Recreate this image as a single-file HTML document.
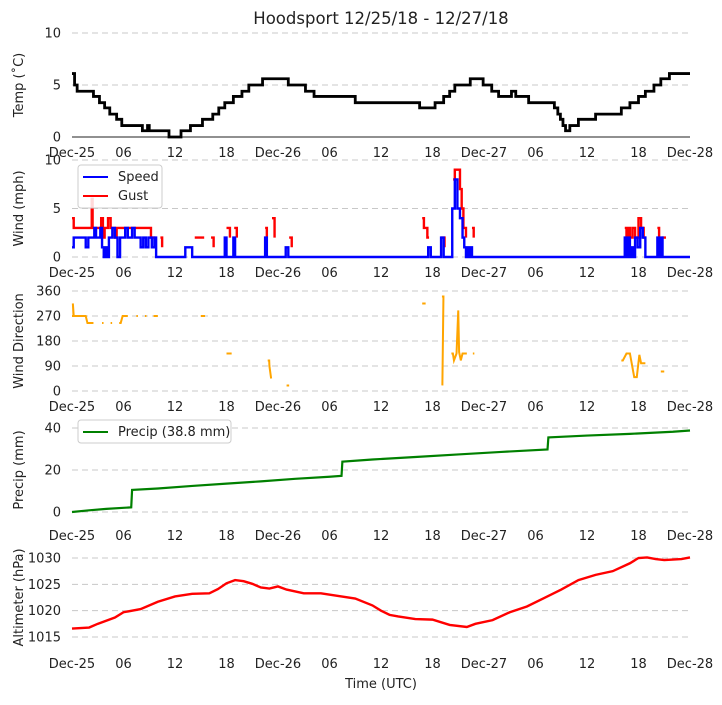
<!DOCTYPE html>
<html><head><meta charset="utf-8"><style>
body{margin:0;background:#fff;}
svg text{font-family:"DejaVu Sans","Liberation Sans",sans-serif;fill:#222;}
</style></head><body>
<svg id="c" width="722" height="700" xmlns="http://www.w3.org/2000/svg">
<text x="381" y="24" font-size="16.5" text-anchor="middle">Hoodsport 12/25/18 - 12/27/18</text>
<text x="381" y="688" font-size="13" text-anchor="middle">Time (UTC)</text>
</svg>
<script>
const xTickHours=[0,6,12,18,24,30,36,42,48,54,60,66,72];
const xTickLabels=["Dec-25","06","12","18","Dec-26","06","12","18","Dec-27","06","12","18","Dec-28"];
const tempT=[0,0.3,0.6,2.5,3.2,3.8,4.4,5.2,5.8,8.2,8.8,9.0,11.3,12.7,13.8,15.2,16.4,17.1,17.8,18.8,19.8,20.6,22.2,25.2,27.2,28.2,33.0,40.5,42.3,43.3,44.0,44.6,46.4,47.9,48.9,49.7,51.2,51.7,53.2,56.2,56.6,56.9,57.2,57.5,58.0,59.0,61.0,64.0,65.0,66.0,66.8,67.8,68.6,69.6,72];
const tempV=[6.1,5.0,4.4,3.9,3.3,2.8,2.2,1.7,1.1,0.6,1.1,0.6,0.0,0.6,1.1,1.7,2.2,2.8,3.3,3.9,4.4,5.0,5.6,5.0,4.4,3.9,3.3,2.8,3.3,3.9,4.4,5.0,5.6,5.0,4.4,3.9,4.4,3.9,3.3,2.8,2.2,1.7,1.1,0.6,1.1,1.7,2.2,2.8,3.3,3.9,4.4,5.0,5.6,6.1,6.1];
const speedT=[0,0.2,1.5,1.6,1.9,2.6,2.8,3.3,3.5,3.7,3.9,4.1,4.3,4.7,5.0,5.3,5.6,6.2,6.5,7.0,7.3,8.0,8.3,8.6,8.9,9.3,9.6,9.8,13.2,13.6,14.0,17.6,17.8,18.0,18.8,19.0,22.3,22.5,22.7,24.9,25.2,41.3,41.5,41.8,43.0,43.3,44.3,44.6,44.9,45.2,45.5,45.7,45.9,46.0,46.2,46.4,46.6,64.2,64.4,64.6,64.8,65.0,65.2,65.4,65.6,65.9,66.2,66.5,66.8,68.0,68.2,68.4,68.6,68.8,72];
const speedV=[1,2,2,1,2,3,2,3,1,0,1,0,2,3,2,0,2,3,2,3,2,1,2,1,2,1,2,0,1,1,0,0,2,0,2,0,0,2,0,1,0,0,1,0,2,0,5,8,5,4,2,1,0,1,0,1,0,0,2,0,2,0,1,0,2,1,3,2,0,0,2,0,2,0,0];
const gustT=[0,0.2,2.2,2.3,2.4,3.4,3.6,3.8,4.2,4.5,5.0,5.2,9.0,9.2,9.7,null,10.3,10.5,null,14.3,15.4,null,16.2,16.5,null,18.0,18.4,null,18.9,19.2,null,22.5,22.7,null,23.3,23.6,null,25.3,25.6,null,40.8,41.0,41.4,41.6,null,43.0,43.4,null,44.4,44.6,45.0,45.2,45.4,45.6,45.9,null,46.6,46.8,null,64.4,64.6,64.8,65.0,65.3,65.6,66.0,66.3,66.6,66.9,null,68.2,68.4,null,68.7,69.2];
const gustV=[4,3,3,6,3,4,2,3,4,3,2,3,3,2,2,null,2,1,null,2,2,null,2,1,null,3,2,null,3,2,null,3,2,null,4,2,null,2,1,null,4,3,2,2,null,2,1,null,8,9,9,7,5,3,2,null,3,2,null,3,2,3,2,3,2,4,3,2,2,null,3,2,null,2,2];
const dirT=[0,0.1,0.2,0.5,1.0,1.6,1.8,2.5,3.5,4.5,5.5,5.9,6.5,7.5,8.5,9.5,10.0,15.0,15.5,18.0,18.6,22.8,23.0,23.2,25.0,25.3,40.8,41.2,43.1,43.15,44.2,44.5,44.8,45.0,45.1,45.3,45.5,46.0,46.7,64.0,64.6,65.0,65.5,65.8,66.1,66.3,66.8,68.6,69.0];
const dirV=[270,315,270,270,270,270,245,245,245,245,245,270,270,270,270,270,270,270,270,135,135,110,90,45,20,20,315,315,340,20,135,110,135,290,140,110,135,135,135,110,135,135,50,50,130,100,100,70,70];
const precipT=[0,2,4,6,6.9,7.0,10,14,18,22,26,30,31.4,31.5,35,40,45,50,55.4,55.5,60,65,70,72];
const precipV=[0,0.8,1.5,2.0,2.2,10.5,11.2,12.4,13.5,14.6,15.8,16.8,17.2,24.0,25.0,26.2,27.4,28.6,29.8,35.5,36.4,37.2,38.2,38.8];
const altT=[0,2,3,5,6,8,10,12,14,16,17,18,19,20,21,22,23,24,25,27,29,31,33,35,36,37,38,40,42,44,46,47,49,51,53,55,57,59,61,63,65,66,67,68,69,71,72];
const altV=[1016.6,1016.8,1017.5,1018.7,1019.7,1020.3,1021.7,1022.7,1023.2,1023.3,1024.1,1025.2,1025.8,1025.6,1025.1,1024.4,1024.2,1024.6,1024.0,1023.3,1023.3,1022.8,1022.3,1021.0,1020.0,1019.2,1018.9,1018.4,1018.3,1017.3,1016.9,1017.5,1018.2,1019.7,1020.8,1022.4,1024.0,1025.8,1026.8,1027.5,1029.0,1030.0,1030.1,1029.8,1029.6,1029.8,1030.1];

const NS="http://www.w3.org/2000/svg";
const svg=document.getElementById('c');
const X0=72,X1=690;
function xs(h){return X0+(X1-X0)*h/72;}
function mk(tag,attrs,parent){const e=document.createElementNS(NS,tag);for(const k in attrs)e.setAttribute(k,attrs[k]);(parent||svg).appendChild(e);return e;}

function panel(name,yTop,yBot,vMin,vMax,ticks,title,labelY){
  const g=mk('g',{});
  
  
  const ys=v=>yBot-(v-vMin)/(vMax-vMin)*(yBot-yTop);
  ticks.forEach(t=>{
    const l=mk('line',{x1:X0,x2:X1,y1:ys(t),y2:ys(t),stroke:'#c8c8c8','stroke-dasharray':'6,4','stroke-width':1},g);
    
    
    const tx=mk('text',{x:61,y:ys(t)+4.5,'font-size':13,'text-anchor':'end'},g);
    tx.textContent=t;
    
    
  });
  xTickHours.forEach((h,i)=>{
    const tx=mk('text',{x:xs(h),y:labelY,'font-size':13,'text-anchor':'middle'},g);
    tx.textContent=xTickLabels[i];
    
    
  });
  const cy=(yTop+yBot)/2;
  const tt=mk('text',{x:0,y:0,'font-size':13,'text-anchor':'middle',transform:`translate(23,${cy}) rotate(-90)`},g);
  tt.textContent=title;
  
  
  return {g,ys};
}
function stepPath(T,V,ys){
  let d='',pen=false,prev=null;
  for(let i=0;i<T.length;i++){
    if(T[i]===null||V[i]===null){pen=false;prev=null;continue;}
    const x=xs(T[i]),y=ys(V[i]);
    if(!pen){d+=`M${x},${y}`;pen=true;}
    else{d+=`L${x},${prev}L${x},${y}`;}
    prev=y;
  }
  return d;
}
function linePath(T,V,ys){
  let d='';
  for(let i=0;i<T.length;i++){d+=(i?'L':'M')+xs(T[i])+','+ys(V[i]);}
  return d;
}

// Temp
let p=panel('temp',33,137,0,10,[0,5,10],'Temp (˚C)',157);
let zl=mk('line',{x1:X0,x2:X1,y1:137,y2:137,stroke:'#222','stroke-width':1},p.g);


let e=mk('path',{d:stepPath(tempT,tempV,p.ys),fill:'none',stroke:'#000','stroke-width':2.8},p.g);



// Wind
p=panel('wind',160,257,0,10,[0,5,10],'Wind (mph)',277);
e=mk('path',{d:stepPath(gustT,gustV,p.ys),fill:'none',stroke:'#f00','stroke-width':2.4},p.g);


e=mk('path',{d:stepPath(speedT,speedV,p.ys),fill:'none',stroke:'#00f','stroke-width':2.4},p.g);


let lg=mk('g',{},p.g);


mk('rect',{x:78,y:165,width:84,height:43,fill:'#fff','fill-opacity':0.85,stroke:'#ccc',rx:3},lg);
mk('line',{x1:83,x2:108,y1:177,y2:177,stroke:'#00f','stroke-width':2},lg);
mk('line',{x1:83,x2:108,y1:196,y2:196,stroke:'#f00','stroke-width':2},lg);
e=mk('text',{x:118,y:181,'font-size':13},lg);e.textContent='Speed';


e=mk('text',{x:118,y:200,'font-size':13},lg);e.textContent='Gust';



// Direction
p=panel('direction',291,391,0,360,[0,90,180,270,360],'Wind Direction',411);
let dd='';
for(let i=0;i<dirT.length;i++){
  const x=xs(dirT[i]),y=p.ys(dirV[i]);
  if(i>0&&dirT[i]-dirT[i-1]<=0.7){dd+=`L${x},${y}`;}else{dd+=`M${x},${y}L${x+1.5},${y}`;}
}
e=mk('path',{d:dd,fill:'none',stroke:'orange','stroke-width':2},p.g);



// Precip
p=panel('precip',428,512,0,40,[0,20,40],'Precip (mm)',540);
e=mk('path',{d:linePath(precipT,precipV,p.ys),fill:'none',stroke:'green','stroke-width':2.2},p.g);


lg=mk('g',{},p.g);


mk('rect',{x:78,y:420,width:153,height:23,fill:'#fff',stroke:'#ccc',rx:3},lg);
mk('line',{x1:83,x2:108,y1:432,y2:432,stroke:'green','stroke-width':2},lg);
e=mk('text',{x:118,y:436,'font-size':13},lg);e.textContent='Precip (38.8 mm)';



// Altimeter
p=panel('altimeter',558,637,1015,1030,[1015,1020,1025,1030],'Altimeter (hPa)',668);
e=mk('path',{d:linePath(altT,altV,p.ys),fill:'none',stroke:'#f00','stroke-width':2.4},p.g);


</script>
</body></html>
